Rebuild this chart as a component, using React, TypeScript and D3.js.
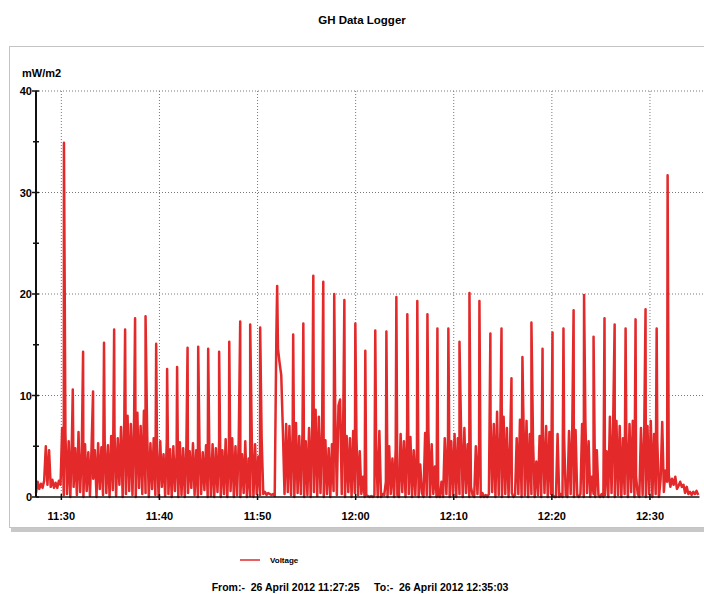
import React from 'react';
import * as d3 from 'd3';

const day = '2012-04-26';
const startTime = '11:27:25';
const endTime = '12:35:03';
const sampleInterval = 10; // seconds between logger readings

// background readings, one row per minute from 11:27:25
const baseReadings = [
  0.4, 1.5, 0.8, 1.3, 0.9, 1.6,
  5.0, 1.2, 4.6, 1.0, 1.7, 0.9,
  1.4, 0.9, 1.6, 1.2, 6.8, 0.2,
  6.2, 0.3, 5.5, 0.0, 6.0, 1.0,
  4.8, 0.2, 6.4, 0.5, 4.5, 0.0,
  5.2, 0.6, 4.4, 0.1, 5.0, 1.8,
  4.6, 0.0, 5.3, 0.8, 4.9, 0.2,
  5.6, 0.4, 5.1, 0.0, 6.0, 0.7,
  6.5, 0.1, 5.8, 1.2, 6.9, 0.0,
  7.6, 0.3, 8.0, 0.6, 7.2, 0.2,
  7.8, 0.0, 8.3, 0.9, 7.0, 0.3,
  8.5, 0.4, 6.2, 0.0, 5.3, 0.8,
  5.8, 0.2, 4.8, 0.0, 5.5, 1.0,
  4.2, 0.1, 5.6, 0.3, 4.7, 0.0,
  5.0, 0.6, 4.3, 0.0, 5.4, 0.2,
  4.8, 0.0, 5.2, 0.4, 4.5, 0.9,
  5.3, 0.2, 4.6, 0.0, 5.0, 0.3,
  4.4, 0.7, 5.1, 0.0, 4.6, 0.1,
  5.2, 0.0, 4.8, 0.5, 5.5, 0.0,
  4.6, 0.3, 5.7, 0.0, 4.9, 0.6,
  5.8, 0.0, 5.0, 0.2, 5.6, 0.0,
  4.2, 0.4, 5.5, 0.0, 3.8, 0.1,
  5.6, 0.0, 5.2, 0.3, 4.0, 0.2,
  5.8, 0.3, 0.5, 0.2, 0.4, 0.3,
  0.2, 0.3, 0.1, 15.8, 14.6, 13.2,
  12.0, 6.5, 0.3, 7.2, 0.5, 7.0,
  0.2, 6.8, 0.0, 7.3, 0.4, 6.0,
  0.3, 6.5, 0.0, 5.5, 0.2, 6.8,
  0.0, 7.6, 0.5, 8.6, 0.1, 7.9,
  0.4, 7.0, 0.0, 5.6, 0.3, 4.8,
  0.0, 5.2, 0.6, 8.5, 0.2, 9.0,
  9.6, 0.3, 8.8, 0.0, 6.0, 0.5,
  5.8, 0.0, 6.5, 0.4, 5.8, 0.2,
  4.5, 0.3, 2.0, 0.0, 0.2, 0.1,
  0.0, 0.1, 0.0, 0.2, 5.2, 0.0,
  6.5, 0.0, 0.3, 0.2, 1.5, 0.0,
  5.0, 0.3, 3.8, 0.0, 4.8, 0.2,
  0.0, 6.2, 0.5, 5.5, 0.0, 6.8,
  0.3, 5.9, 0.0, 4.6, 0.2, 5.0,
  0.0, 3.2, 0.4, 0.0, 6.3, 0.2,
  6.5, 0.0, 5.2, 0.3, 3.0, 0.0,
  0.2, 0.0, 1.5, 0.0, 5.8, 0.3,
  6.0, 0.0, 5.5, 0.2, 6.2, 0.0,
  5.8, 0.3, 6.4, 0.0, 6.8, 0.4,
  5.2, 0.0, 1.0, 0.2, 0.0, 5.0,
  0.3, 5.2, 0.0, 0.4, 0.0, 0.2,
  0.0, 0.3, 7.8, 0.5, 7.2, 0.0,
  8.4, 0.2, 6.5, 0.0, 7.9, 0.3,
  6.8, 0.0, 5.5, 0.4, 0.0, 0.2,
  5.8, 0.3, 7.6, 0.0, 8.8, 0.2,
  7.5, 0.0, 6.2, 0.3, 5.4, 0.0,
  3.5, 0.2, 6.0, 0.0, 6.8, 0.4,
  7.0, 0.0, 6.4, 0.3, 0.2, 0.0,
  0.0, 6.2, 0.0, 0.3, 0.0, 5.8,
  0.2, 0.0, 6.5, 0.3, 7.0, 0.0,
  6.6, 0.2, 0.0, 0.3, 7.2, 0.0,
  7.6, 0.4, 5.5, 0.0, 2.0, 0.3,
  0.0, 4.6, 0.2, 0.0, 0.3, 0.0,
  0.2, 4.5, 0.0, 7.9, 0.4, 7.3,
  0.0, 7.5, 0.2, 7.0, 0.0, 5.8,
  0.3, 6.4, 0.0, 7.2, 0.5, 7.5,
  0.0, 2.0, 0.3, 0.0, 6.8, 0.2,
  6.5, 0.0, 7.0, 0.3, 7.5, 0.0,
  6.2, 0.3, 5.5, 0.0, 1.7, 7.4,
  0.5, 2.6, 1.5, 2.2, 1.0, 1.8,
  1.2, 2.0, 0.8, 1.1, 1.5, 1.0,
  1.2, 0.4, 1.0, 0.3, 0.5, 0.2,
  0.5, 0.3, 0.6, 0.2,
];

// the tall spikes, roughly once a minute
const spikeTimes = [
  '11:30:16', '11:31:10', '11:32:13', '11:33:14', '11:34:21', '11:35:23', '11:36:30', '11:37:31',
  '11:38:35', '11:39:40', '11:40:47', '11:41:48', '11:42:52', '11:43:57', '11:44:58', '11:46:05',
  '11:47:07', '11:48:14', '11:49:15', '11:50:16', '11:52:00', '11:53:38', '11:54:40', '11:55:41',
  '11:56:42', '11:57:49', '11:58:51', '11:59:58', '12:00:59', '12:02:00', '12:03:08', '12:04:09',
  '12:05:16', '12:06:17', '12:07:19', '12:08:20', '12:09:27', '12:10:35', '12:11:36', '12:12:37',
  '12:13:44', '12:14:52', '12:15:53', '12:17:00', '12:17:55', '12:19:03', '12:20:04', '12:21:11',
  '12:22:13', '12:23:17', '12:24:15', '12:25:22', '12:26:24', '12:27:31', '12:28:32', '12:29:33',
  '12:30:41', '12:31:48',
];
const spikeValues = [
  34.9, 10.6, 14.3, 10.4, 15.2, 16.5, 16.5, 17.6,
  17.8, 15.1, 12.6, 12.8, 14.7, 14.8, 14.6, 14.3,
  15.3, 17.3, 17.0, 16.7, 20.8, 16.0, 17.1, 21.8,
  21.2, 20.0, 19.4, 17.1, 14.4, 16.4, 16.3, 19.7,
  18.0, 19.3, 18.0, 16.6, 16.6, 15.3, 20.1, 19.3,
  16.1, 16.6, 11.7, 13.8, 17.2, 14.6, 16.2, 16.6,
  18.4, 19.9, 15.8, 17.6, 17.0, 16.6, 17.5, 18.5,
  16.6, 31.7,
];

const xTickLabels = ['11:30', '11:40', '11:50', '12:00', '12:10', '12:20', '12:30'];
const yTickValues = [0, 10, 20, 30, 40];
const yMinorTicks = [5, 15, 25, 35];

const font = 'Liberation Sans, Arial, sans-serif';
const red = '#e3292a';

const toDate = (t: string) => new Date(`${day}T${t.length === 5 ? t + ':00' : t}`);

export default function App() {
  const width = 704;
  const height = 594;
  const margin = { left: 36, right: 4.5, top: 91, bottom: 97 };

  const t0 = toDate(startTime);
  const x = d3.scaleTime()
    .domain([t0, toDate(endTime)])
    .range([margin.left, width - margin.right]);
  const y = d3.scaleLinear()
    .domain([0, 40])
    .range([height - margin.bottom, margin.top]);

  const points = baseReadings
    .map((v, i) => ({ t: new Date(t0.getTime() + i * sampleInterval * 1000), v }))
    .concat(spikeTimes.map((s, i) => ({ t: toDate(s), v: spikeValues[i] })))
    .sort((a, b) => a.t.getTime() - b.t.getTime());

  const line = d3.line<{ t: Date; v: number }>()
    .x(d => x(d.t))
    .y(d => y(d.v));

  const y0 = y(0);
  const yTop = y(40);

  return (
    <svg width={width} height={height} style={{ position: 'absolute', left: 0, top: 0, background: '#fff' }}>
      <text x={362} y={24} textAnchor="middle" fontFamily={font} fontWeight="bold" fontSize={11.5}>GH Data Logger</text>

      {/* chart frame with shadow */}
      <rect x={11} y={528} width={700} height={4} fill="#c8c8c8" />
      <rect x={9.5} y={46.5} width={710} height={481} fill="#fff" stroke="#c4c4c4" />

      <text x={22} y={77} fontFamily={font} fontWeight="bold" fontSize={11}>mW/m2</text>

      {/* grid */}
      {yTickValues.filter(v => v > 0).map(v => (
        <line key={'gy' + v} x1={margin.left} x2={width} y1={y(v)} y2={y(v)}
          stroke="#777" strokeWidth={1} strokeDasharray="1,2" />
      ))}
      {xTickLabels.map(l => (
        <line key={'gx' + l} x1={x(toDate(l))} x2={x(toDate(l))} y1={yTop} y2={y0}
          stroke="#777" strokeWidth={1} strokeDasharray="1,2" />
      ))}

      <path d={line(points) ?? ''} fill="none" stroke={red} strokeWidth={2.5} strokeLinejoin="round" />

      {/* axes */}
      <line x1={margin.left} x2={width - margin.right} y1={y0} y2={y0} stroke="#111" strokeWidth={1.5} />
      <line x1={margin.left} x2={margin.left} y1={yTop} y2={y0} stroke="#111" strokeWidth={2} />
      {yTickValues.map(v => (
        <g key={'yt' + v}>
          <line x1={margin.left - 4} x2={margin.left + 3} y1={y(v)} y2={y(v)} stroke="#111" strokeWidth={1.5} />
          <text x={margin.left - 4} y={y(v) + 4} textAnchor="end" fontFamily={font} fontWeight="bold" fontSize={11}>{v}</text>
        </g>
      ))}
      {yMinorTicks.map(v => (
        <line key={'ym' + v} x1={margin.left - 3} x2={margin.left + 3} y1={y(v)} y2={y(v)} stroke="#111" strokeWidth={1.5} />
      ))}
      {xTickLabels.map(l => (
        <g key={'xt' + l}>
          <line x1={x(toDate(l))} x2={x(toDate(l))} y1={y0 - 3} y2={y0 + 3} stroke="#111" strokeWidth={1.5} />
          <text x={x(toDate(l))} y={y0 + 23} textAnchor="middle" fontFamily={font} fontWeight="bold" fontSize={11}>{l}</text>
        </g>
      ))}

      {/* legend */}
      <line x1={240} x2={260} y1={560} y2={560} stroke={red} strokeWidth={1.5} />
      <text x={270} y={563} fontFamily={font} fontWeight="bold" fontSize={8}>Voltage</text>

      <text x={360} y={591} textAnchor="middle" fontFamily={font} fontWeight="bold" fontSize={10.5} xmlSpace="preserve">
        From:-  26 April 2012 11:27:25     To:-  26 April 2012 12:35:03
      </text>
    </svg>
  );
}
